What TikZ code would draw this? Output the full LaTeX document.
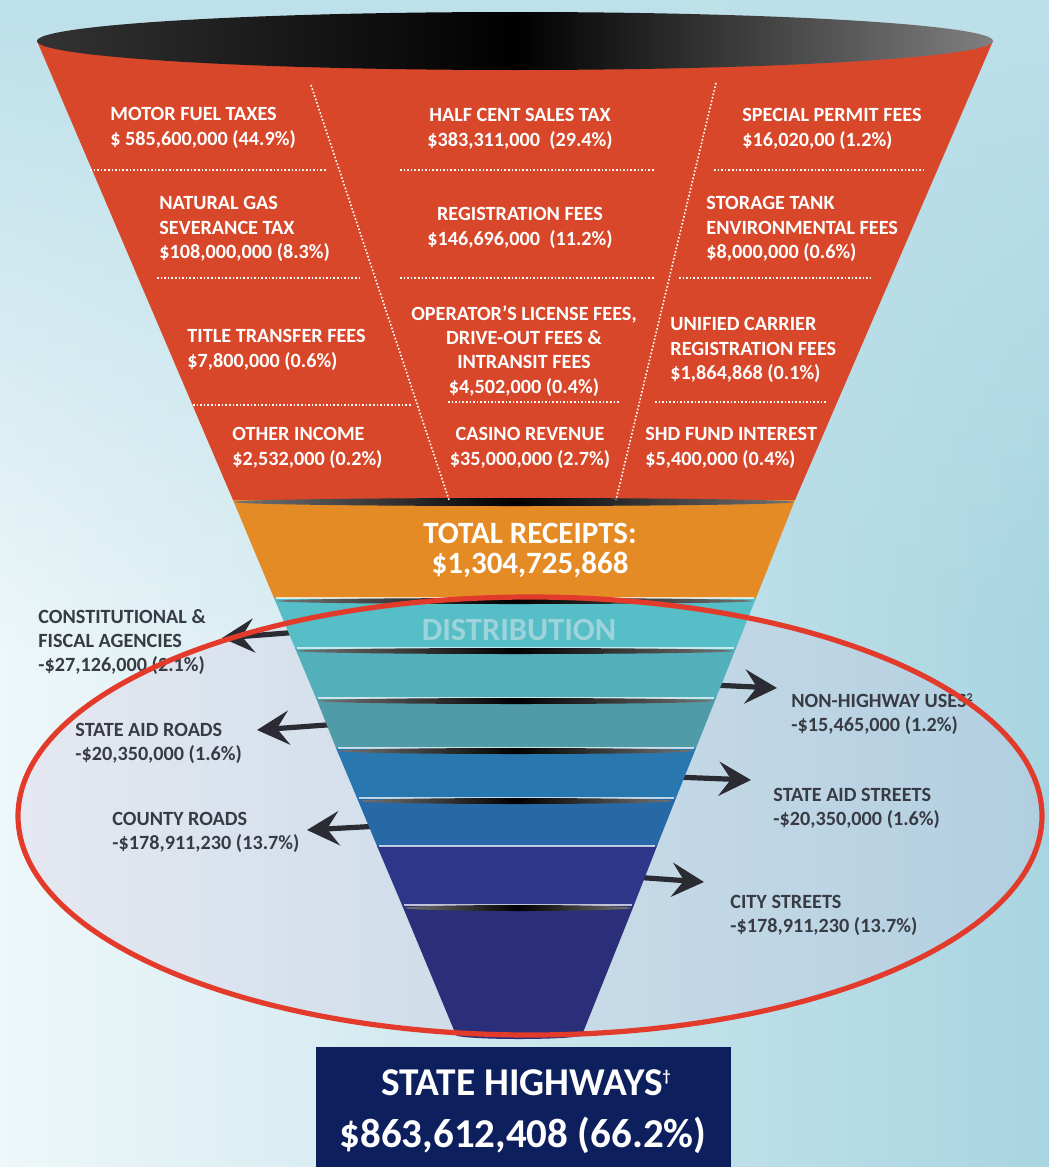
\documentclass[tikz,border=0pt]{standalone}
\usepackage{fontspec}
\setmainfont{Carlito}
\usepackage{xcolor}
\usepackage{tikz}
\usetikzlibrary{arrows.meta, fadings}
\definecolor{RecRed}{HTML}{D9472A}
\definecolor{RecOrange}{HTML}{E58B26}
\definecolor{DistA}{HTML}{56BEC6}
\definecolor{DistB}{HTML}{53AFBA}
\definecolor{DistC}{HTML}{4F9CA8}
\definecolor{DistD}{HTML}{2878AF}
\definecolor{DistE}{HTML}{2769A6}
\definecolor{DistF}{HTML}{2D3689}
\definecolor{DistG}{HTML}{2B2E78}
\definecolor{DistText}{HTML}{9DD3DA}
\definecolor{LabGrey}{HTML}{383B44}
\definecolor{ArrGrey}{HTML}{2A2B33}
\definecolor{RingRed}{HTML}{E23B2C}
\definecolor{HwyNavy}{HTML}{0E1F5E}
\definecolor{BgBlue}{HTML}{A8D5E1}
\definecolor{BgTop}{HTML}{BDE0EA}
\definecolor{BgLight}{HTML}{EEF7F9}
\definecolor{OvalL}{HTML}{E5E8F1}
\definecolor{OvalR}{HTML}{B1CFE0}
\tikzset{
    srctxt/.style={
        text=white, font=\bfseries\fontsize{10.1}{12.2}\selectfont,
        align=left, inner sep=0pt, anchor=north west
    },
    srcmid/.style={
        srctxt, align=center, anchor=north
    },
    outtxt/.style={
        text=LabGrey, font=\bfseries\fontsize{10.1}{12}\selectfont,
        align=left, inner sep=0pt, anchor=north west
    },
    dotsep/.style={
        white, densely dotted, line width=0.8pt
    },
    outarr/.style={
        draw=ArrGrey, line width=2.6pt, -{Stealth[length=16pt, width=17pt, inset=6pt]}
    },
    seam/.style={
        left color=black!55, right color=black!55, middle color=black
    },
    shine/.style={
        white, opacity=0.7, line width=0.6pt
    }
}

\begin{document}
\begin{tikzpicture}[x=0.5pt, y=-0.5pt]
        \useasboundingbox (0,0) rectangle (1049,1167);
        % background
        \shade[left color=BgLight, right color=BgBlue] (0,0) rectangle (1049,1167);
        \fill[BgTop, path fading=south] (0,0) rectangle (1049,650);
        \shade[left color=OvalL, right color=OvalR] (530,816) ellipse [x radius=512, y radius=219];

        % outgoing arrows, drawn under the funnel
        \coordinate (cfa-from) at (300,632);  \coordinate (cfa-to) at (222,638);
        \coordinate (sar-from) at (340,724);  \coordinate (sar-to) at (257,730);
        \coordinate (cnty-from) at (380,826); \coordinate (cnty-to) at (307,830);
        \coordinate (nhw-from) at (712,685);  \coordinate (nhw-to) at (777,688);
        \coordinate (sas-from) at (675,777);  \coordinate (sas-to) at (751,780);
        \coordinate (city-from) at (633,877); \coordinate (city-to) at (704,882);
        \draw[outarr] (cfa-from) -- (cfa-to);
        \draw[outarr] (sar-from) -- (sar-to);
        \draw[outarr] (cnty-from) -- (cnty-to);
        \draw[outarr] (nhw-from) -- (nhw-to);
        \draw[outarr] (sas-from) -- (sas-to);
        \draw[outarr] (city-from) -- (city-to);

        % funnel
        \fill[RecRed] (37,41) -- (993,41) -- (795,500) -- (233,500) -- cycle;
        \fill[RecOrange] (233,500) -- (795,500) -- (756,598) -- (274,598) -- cycle;
        \fill[DistA] (274,598) -- (756,598) -- (736,648) -- (295,648) -- cycle;
        \fill[DistB] (295,648) -- (736,648) -- (716,698) -- (316,698) -- cycle;
        \fill[DistC] (316,698) -- (716,698) -- (696,748) -- (336,748) -- cycle;
        \fill[DistD] (336,748) -- (696,748) -- (676,798) -- (357,798) -- cycle;
        \fill[DistE] (357,798) -- (676,798) -- (657,846) -- (377,846) -- cycle;
        \fill[DistF] (377,846) -- (657,846) -- (634,905) -- (402,905) -- cycle;
        \fill[DistG] (402,905) -- (634,905) -- (582,1035) -- (456,1035) -- cycle;
        \fill[DistG] (519,1035) ellipse [x radius=63, y radius=4];

        % seams between the bands
        \shade[seam] (514,502) ellipse [x radius=280, y radius=4];
        \draw[shine] (276,598) -- (754,598);
        \shade[seam] (515,601) ellipse [x radius=238, y radius=3];
        \draw[shine] (297,648) -- (734,648);
        \shade[seam] (515,651) ellipse [x radius=218, y radius=3];
        \draw[shine] (318,698) -- (714,698);
        \shade[seam] (516,701) ellipse [x radius=197, y radius=3];
        \draw[shine] (338,748) -- (694,748);
        \shade[seam] (516,751) ellipse [x radius=177, y radius=3];
        \draw[shine] (359,798) -- (674,798);
        \shade[seam] (516,801) ellipse [x radius=156, y radius=3];
        \draw[shine] (379,846) -- (655,846);
        \draw[shine] (404,905) -- (632,905);
        \shade[seam] (518,908) ellipse [x radius=113, y radius=3];

        % rim
        \shade[left color=black!80, right color=black!50, middle color=black] (515,41) ellipse [x radius=478, y radius=29];

        % dotted dividers
        \draw[dotsep] (311,85) -- (449,500);
        \draw[dotsep] (716,83) -- (616,500);
        \draw[dotsep] (90,170) -- (326,170);
        \draw[dotsep] (157,278) -- (361,278);
        \draw[dotsep] (193,405) -- (412,405);
        \draw[dotsep] (400,170) -- (655,170);
        \draw[dotsep] (400,278) -- (655,278);
        \draw[dotsep] (448,402) -- (620,402);
        \draw[dotsep] (714,170) -- (923,170);
        \draw[dotsep] (679,278) -- (871,278);
        \draw[dotsep] (655,402) -- (827,402);

        % receipts
        \node[srctxt] (motor) at (110,107) {MOTOR FUEL TAXES\\\$ 585,600,000 (44.9\%)};
        \node[srctxt] (natgas) at (159,196) {NATURAL GAS\\SEVERANCE TAX\\\$108,000,000 (8.3\%)};
        \node[srctxt] (title) at (187,329) {TITLE TRANSFER FEES\\\$7,800,000 (0.6\%)};
        \node[srctxt] (other) at (232,427) {OTHER INCOME\\\$2,532,000 (0.2\%)};
        \node[srcmid] (halfcent) at (520,108) {HALF CENT SALES TAX\\\$383,311,000~~(29.4\%)};
        \node[srcmid] (regfees) at (520,207) {REGISTRATION FEES\\\$146,696,000~~(11.2\%)};
        \node[srcmid] (operator) at (524,305) {OPERATOR’S LICENSE FEES,\\DRIVE-OUT FEES \&\\INTRANSIT FEES\\\$4,502,000 (0.4\%)};
        \node[srcmid] (casino) at (530,427) {CASINO REVENUE\\\$35,000,000 (2.7\%)};
        \node[srctxt] (permit) at (742,108) {SPECIAL PERMIT FEES\\\$16,020,00 (1.2\%)};
        \node[srctxt] (storage) at (706,196) {STORAGE TANK\\ENVIRONMENTAL FEES\\\$8,000,000 (0.6\%)};
        \node[srctxt] (unified) at (670,317) {UNIFIED CARRIER\\REGISTRATION FEES\\\$1,864,868 (0.1\%)};
        \node[srctxt] (shd) at (645,427) {SHD FUND INTEREST\\\$5,400,000 (0.4\%)};

        \node[text=white, font=\bfseries\fontsize{15.5}{15}\selectfont, align=center, inner sep=0pt, anchor=north] (total) at (530,523) {TOTAL RECEIPTS:\\\$1,304,725,868};
        \node[text=DistText, font=\bfseries\fontsize{16.2}{16}\selectfont, inner sep=0pt, anchor=north] (distr) at (519,619) {DISTRIBUTION};

        % distribution
        \node[outtxt] (cfa) at (38,609) {CONSTITUTIONAL \&\\FISCAL AGENCIES\\-\$27,126,000 (2.1\%)};
        \node[outtxt] (sar) at (75,723) {STATE AID ROADS\\-\$20,350,000 (1.6\%)};
        \node[outtxt] (cnty) at (112,812) {COUNTY ROADS\\-\$178,911,230 (13.7\%)};
        \node[outtxt] (nhw) at (791,693) {NON-HIGHWAY USES\raisebox{3.2pt}{\fontsize{6}{6}\selectfont 2}\\-\$15,465,000 (1.2\%)};
        \node[outtxt] (sas) at (773,788) {STATE AID STREETS\\-\$20,350,000 (1.6\%)};
        \node[outtxt] (city) at (730,895) {CITY STREETS\\-\$178,911,230 (13.7\%)};

        % state highways
        \fill[HwyNavy] (316,1047) rectangle (731,1167);
        \node[text=white, font=\bfseries\fontsize{19.7}{20}\selectfont, inner sep=0pt, anchor=base] (hwy) at (526,1095) {STATE HIGHWAYS\raisebox{7pt}{\fontsize{8}{8}\selectfont †}};
        \node[text=white, font=\bfseries\fontsize{20.5}{22}\selectfont, inner sep=0pt, anchor=base] (hwyamt) at (523,1147) {\$863,612,408 (66.2\%)};

        \draw[RingRed, line width=2.6pt] (530,816) ellipse [x radius=512, y radius=219];
    \end{tikzpicture}
\end{document}
